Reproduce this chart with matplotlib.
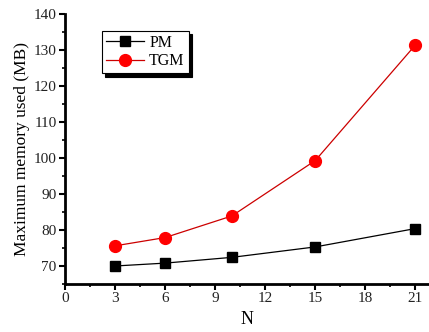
import matplotlib
matplotlib.use("Agg")
import matplotlib.pyplot as plt
from matplotlib.ticker import MultipleLocator

n_values = [3, 6, 10, 15, 21]
pm_memory = [70.0, 70.8, 72.4, 75.3, 80.4]
tgm_memory = [75.6, 77.9, 83.9, 99.3, 131.4]

plt.rcParams["font.family"] = ["Liberation Serif", "DejaVu Serif"]

fig = plt.figure(figsize=(4.29, 3.32), dpi=100)
ax = fig.add_axes([0.1515, 0.1446, 0.846, 0.8132])

ax.plot(n_values, pm_memory, color="black", lw=0.9, marker="s", markersize=7.5, label="PM")
ax.plot(n_values, tgm_memory, color="#cc0000", lw=0.9, marker="o", markersize=8.5,
        markerfacecolor="red", markeredgecolor="red", label="TGM")

ax.set_xlim(0, 21.75)
ax.set_ylim(65, 140)
ax.xaxis.set_major_locator(MultipleLocator(3))
ax.xaxis.set_minor_locator(MultipleLocator(1.5))
ax.yaxis.set_major_locator(MultipleLocator(10))
ax.yaxis.set_minor_locator(MultipleLocator(5))
ax.set_yticks(range(70, 141, 10))

for side in ["top", "right"]:
    ax.spines[side].set_visible(False)
for side in ["left", "bottom"]:
    ax.spines[side].set_linewidth(2)

ax.tick_params(which="major", direction="out", length=4, width=1.5, labelsize=11,
               pad=2, labelcolor="#222222")
ax.tick_params(which="minor", direction="out", length=2.5, width=1.2)

ax.set_xlabel("N", fontsize=13, labelpad=4)
ax.set_ylabel("Maximum memory used (MB)", fontsize=12.5, labelpad=3)

leg = ax.legend(loc="upper left", bbox_to_anchor=(0.102, 0.937), fontsize=11.5,
                frameon=True, fancybox=False,
                shadow={"color": "black", "alpha": 1, "ox": 2.5, "oy": -2.5},
                handlelength=2.4, borderpad=0.25, labelspacing=0.15,
                handletextpad=0.3, borderaxespad=0)
leg.get_frame().set_edgecolor("black")
leg.get_frame().set_linewidth(0.8)

fig.savefig("out.png", dpi=100)
